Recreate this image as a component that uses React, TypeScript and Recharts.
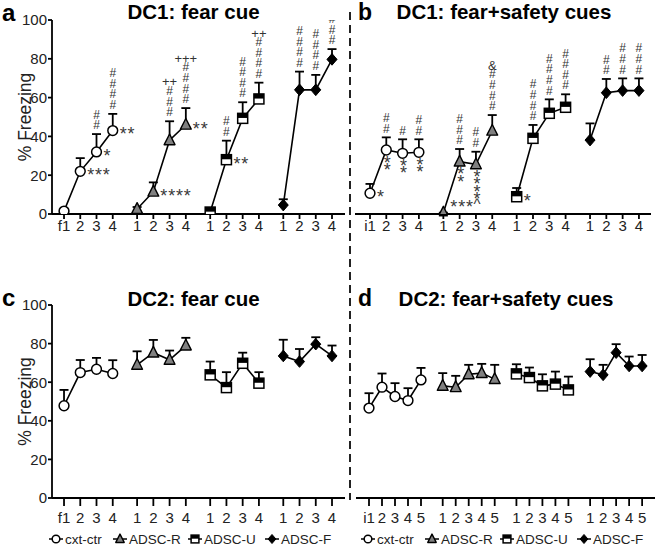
import { LineChart, Line, XAxis, YAxis, ErrorBar } from 'recharts'

const FONT = '"Liberation Sans", Arial, Helvetica, sans-serif'

const seriesNames = ['cxt-ctr', 'ADSC-R', 'ADSC-U', 'ADSC-F']
const yTicks = [0, 20, 40, 60, 80, 100]

// tick labels, one list per group
const dc1FearTicks = [['f1', '2', '3', '4'], ['1', '2', '3', '4'], ['1', '2', '3', '4'], ['1', '2', '3', '4']]
const dc1SafetyTicks = [['i1', '2', '3', '4'], ['1', '2', '3', '4'], ['1', '2', '3', '4'], ['1', '2', '3', '4']]
const dc2FearTicks = [['f1', '2', '3', '4'], ['1', '2', '3', '4'], ['1', '2', '3', '4'], ['1', '2', '3', '4']]
const dc2SafetyTicks = [['i1', '2', '3', '4', '5'], ['1', '2', '3', '4', '5'], ['1', '2', '3', '4', '5'], ['1', '2', '3', '4', '5']]

// a: DC1 fear cue
const dc1FearMean = [[1.5, 22, 32, 43], [2.6, 11.5, 38, 46], [1, 28, 49.3, 59.3], [4.6, 64, 64, 79.7]]
const dc1FearSem = [[0.5, 6.8, 9.2, 8.6], [1, 4.8, 9.8, 8.6], [0.5, 9.8, 8.3, 8.4], [3, 9.4, 7.7, 5.3]]
const dc1FearHash = [['', '', '##', '####'], ['', '', '###', '####'], ['', '##', '####', '####'], ['', '####', '####', '####']]
const dc1FearTop = [['', '', '', ''], ['', '', '++', '+++'], ['', '', '', '++'], ['', '', '', '']]
const dc1FearStars = [['', '***', '*', '**'], ['', '****', '', '**'], ['', '**', '', ''], ['', '', '', '']]

// b: DC1 fear+safety cues
const dc1SafetyMean = [[10.7, 33, 31.3, 31.8], [0.7, 27, 25.6, 42.9], [8.9, 39, 51.9, 55], [38.1, 62.5, 63.6, 63.6]]
const dc1SafetySem = [[4.8, 6.5, 7.2, 6.7], [0, 6.5, 6.5, 8.1], [4.5, 6.9, 7.2, 6.7], [8.6, 7.1, 6.3, 6.3]]
const dc1SafetyHash = [['', '##', '#', '##'], ['', '###', '##', '####'], ['', '####', '####', '####'], ['', '##', '###', '###']]
const dc1SafetyTop = [['', '', '', ''], ['', '', '', '&'], ['', '', '', ''], ['', '', '', '']]
const dc1SafetyStars = [['*', '', '', ''], ['***', '', '', ''], ['*', '', '', ''], ['', '', '', '']]
const dc1SafetyBelow = [['', '**', '**', '**'], ['', '**', '****', ''], ['', '', '', ''], ['', '', '', '']]
const dc1SafetyCaret = [['', '', '', ''], ['', '', '^', ''], ['', '', '', ''], ['', '', '', '']]

// c: DC2 fear cue
const dc2FearMean = [[47.8, 65, 66.7, 64.5], [69, 75.3, 71.6, 79], [63.8, 57.2, 69.8, 59.5], [73.6, 70.7, 79.7, 73.6]]
const dc2FearSem = [[8.2, 6.5, 5.9, 6.9], [7, 6.6, 4.8, 4], [6.9, 8, 5.5, 5.7], [8.4, 6.5, 3.6, 5.4]]

// d: DC2 fear+safety cues
const dc2SafetyMean = [[46.6, 57.4, 52.6, 50.5, 61.2], [58.1, 57.4, 64.1, 64.7, 61.6], [64.3, 62.4, 58.1, 59, 56], [65.5, 63.8, 75.3, 68.4, 68.4]]
const dc2SafetySem = [[7.7, 7.1, 6.9, 6.4, 6.2], [6.6, 5.9, 4.9, 4.8, 7.4], [5, 5.2, 6, 6.5, 6.9], [6.4, 5.2, 4.4, 4.9, 5.7]]

type Row = {
  x: number; tick: string; g: number; v: number; e: number
  hash: string; top: string; stars: string; below: string; caret: string
}

function buildRows(
  ticks: string[][], mean: number[][], sem: number[][], step: number,
  hash?: string[][], top?: string[][], stars?: string[][], below?: string[][], caret?: string[][],
): Row[] {
  const rows: Row[] = []
  mean.forEach((vals, g) => vals.forEach((v, i) => rows.push({
    x: g * step + i, tick: ticks[g][i], g, v, e: sem[g][i],
    hash: hash?.[g][i] ?? '', top: top?.[g][i] ?? '', stars: stars?.[g][i] ?? '',
    below: below?.[g][i] ?? '', caret: caret?.[g][i] ?? '',
  })))
  return rows
}

const rowsA = buildRows(dc1FearTicks, dc1FearMean, dc1FearSem, 4.5, dc1FearHash, dc1FearTop, dc1FearStars)
const rowsB = buildRows(dc1SafetyTicks, dc1SafetyMean, dc1SafetySem, 4.5, dc1SafetyHash, dc1SafetyTop,
  dc1SafetyStars, dc1SafetyBelow, dc1SafetyCaret)
const rowsC = buildRows(dc2FearTicks, dc2FearMean, dc2FearSem, 4.5)
const rowsD = buildRows(dc2SafetyTicks, dc2SafetyMean, dc2SafetySem, 5.67)

// stacked symbols: one text per stack, drawn top to bottom
const vertical = { writingMode: 'vertical-rl', textOrientation: 'upright' } as any

function Marker({ g, cx, cy, s = 1 }: { g: number; cx: number; cy: number; s?: number }) {
  if (g === 0) return <circle cx={cx} cy={cy} r={4.9 * s} fill="#fff" stroke="#000" strokeWidth={1.5} />
  if (g === 1) {
    return <path d={`M${cx},${cy - 6.3 * s} L${cx + 5.4 * s},${cy + 4.4 * s} L${cx - 5.4 * s},${cy + 4.4 * s} Z`}
      fill="#808080" stroke="#000" strokeWidth={1.4} strokeLinejoin="round" />
  }
  if (g === 2) {
    return (
      <g>
        <rect x={cx - 5 * s} y={cy - 5 * s} width={10 * s} height={10 * s} fill="#fff" stroke="#000" strokeWidth={1.5} />
        <rect x={cx - 5 * s} y={cy - 5 * s} width={10 * s} height={4.6 * s} fill="#000" />
      </g>
    )
  }
  return <path d={`M${cx},${cy - 5.8 * s} L${cx + 5 * s},${cy} L${cx},${cy + 5.8 * s} L${cx - 5 * s},${cy} Z`} fill="#000" stroke="#000" strokeWidth={1} />
}

const renderMarker = (p: any, g: number) => {
  const r: Row | undefined = p.payload
  const key = `m-${g}-${p.index}`
  if (p.cx == null || p.cy == null || !r || r.g !== g) return <g key={key} />
  // points sitting on the axis get their stars raised clear of the tick labels
  const lift = r.v < 3 ? 9.5 : 0
  return (
    <g key={key}>
      <Marker g={g} cx={p.cx} cy={p.cy} />
      {r.stars && (
        <text x={p.cx + 7} y={p.cy + 9.9 - lift} fontSize={18} letterSpacing={0.8} fill="#3a3a3a" fontFamily={FONT}>{r.stars}</text>
      )}
      {r.below && (
        <text x={p.cx + 1} y={p.cy + 2.7} fontSize={18} letterSpacing={-12.6} fill="#3a3a3a" fontFamily={FONT} style={vertical}>{r.below}</text>
      )}
      {r.caret && (
        <text x={p.cx + 1} y={p.cy + 44.5} textAnchor="middle" fontSize={15} fill="#3a3a3a" fontFamily={FONT}>{r.caret}</text>
      )}
    </g>
  )
}

const renderHash = (p: any) => {
  const r: Row | undefined = p.payload
  const key = `h-${p.index}`
  if (p.cx == null || p.cy == null || !r || (!r.hash && !r.top)) return <g key={key} />
  const n = r.hash.length
  return (
    <g key={key}>
      {n > 0 && (
        <text x={p.cx} y={p.cy - 5.2} textAnchor="end" fontSize={12} letterSpacing={-3.4} fill="#333" fontFamily={FONT} style={vertical}>{r.hash}</text>
      )}
      {r.top && (
        <text x={p.cx} y={p.cy - 4.8 - n * 10} textAnchor="middle" fontSize={13} fill="#333" fontFamily={FONT}>{r.top}</text>
      )}
    </g>
  )
}

const yLabel = (props: any) => {
  const vb = props.viewBox
  const cx = vb.x + 24.5
  const cy = vb.y + vb.height / 2
  return (
    <text x={cx} y={cy} transform={`rotate(-90 ${cx} ${cy})`} textAnchor="middle" dominantBaseline="central"
      fontSize={17.5} fill="#222" fontFamily={FONT}>% Freezing</text>
  )
}

interface PanelProps {
  rows: Row[]
  width: number
  height: number
  margin: { top: number; right: number; bottom: number; left: number }
  domain: [number, number]
  showY: boolean
  tickSize: number
  tickMargin: number
  xHeight: number
}

function Panel({ rows, width, height, margin, domain, showY, tickSize, tickMargin, xHeight }: PanelProps) {
  const tickLabel = (v: number) => rows.find(r => Math.abs(r.x - v) < 1e-6)?.tick ?? ''
  const axisStyle = { stroke: '#000', strokeWidth: 1.8 }
  return (
    <LineChart width={width} height={height} data={rows} margin={margin}>
      <XAxis type="number" dataKey="x" domain={domain} ticks={rows.map(r => r.x)} interval={0}
        tickFormatter={tickLabel} height={xHeight} tickSize={tickSize} tickMargin={tickMargin}
        axisLine={axisStyle} tickLine={axisStyle} allowDataOverflow
        tick={{ fill: '#222', fontSize: 15, fontFamily: FONT }} />
      <YAxis type="number" domain={[0, 100]} ticks={yTicks} hide={!showY} width={52} tickSize={4} tickMargin={1}
        axisLine={axisStyle} tickLine={axisStyle} allowDataOverflow
        tick={{ fill: '#222', fontSize: 15, fontFamily: FONT }} label={yLabel} />
      <Line dataKey="v" stroke="none" dot={false} activeDot={false} isAnimationActive={false} legendType="none">
        <ErrorBar dataKey={(r: Row) => [r.g === 1 ? 1.5 : 0, r.e]} width={4.5} stroke="#000" strokeWidth={1.8} direction="y" />
      </Line>
      <Line dataKey={(r: Row) => r.v + r.e} stroke="none" dot={renderHash} activeDot={false}
        isAnimationActive={false} legendType="none" />
      {seriesNames.map((n, g) => (
        <Line key={n} name={n} dataKey={(r: Row) => (r.g === g ? r.v : null)} stroke="#000" strokeWidth={1.6}
          dot={(p: any) => renderMarker(p, g)} activeDot={false} isAnimationActive={false} />
      ))}
    </LineChart>
  )
}

function LegendSet({ left }: { left: number[] }) {
  return (
    <g>
      {seriesNames.map((n, g) => (
        <g key={n}>
          <line x1={left[g]} x2={left[g] + 14} y1={539} y2={539} stroke="#000" strokeWidth={1.5} />
          <Marker g={g} cx={left[g] + 7} cy={539} s={0.78} />
          <text x={left[g] + 16} y={543.6} fontSize={13.5} fill="#222" fontFamily={FONT}>{n}</text>
        </g>
      ))}
    </g>
  )
}

export default function App() {
  return (
    <div style={{ position: 'absolute', left: 0, top: 0, width: 660, height: 551, background: '#fff', fontFamily: FONT }}>
      <div style={{ position: 'absolute', left: 0, top: 0 }}>
        <Panel rows={rowsA} width={350} height={250} margin={{ top: 20, right: 5, bottom: 0, left: 0 }}
          domain={[-0.74, 17.3]} showY tickSize={5} tickMargin={1} xHeight={36} />
      </div>
      <div style={{ position: 'absolute', left: 350, top: 0 }}>
        <Panel rows={rowsB} width={310} height={250} margin={{ top: 20, right: 9, bottom: 0, left: 5 }}
          domain={[-0.92, 17.24]} showY={false} tickSize={5} tickMargin={1} xHeight={36} />
      </div>
      <div style={{ position: 'absolute', left: 0, top: 280 }}>
        <Panel rows={rowsC} width={350} height={250} margin={{ top: 25, right: 5, bottom: 0, left: 0 }}
          domain={[-0.74, 17.3]} showY tickSize={8} tickMargin={6} xHeight={32} />
      </div>
      <div style={{ position: 'absolute', left: 350, top: 280 }}>
        <Panel rows={rowsD} width={310} height={250} margin={{ top: 25, right: 5, bottom: 0, left: 6 }}
          domain={[-1, 22]} showY={false} tickSize={8} tickMargin={6} xHeight={32} />
      </div>
      <svg width={660} height={551} style={{ position: 'absolute', left: 0, top: 0, pointerEvents: 'none' }}>
        <line x1={350} x2={350} y1={12} y2={500} stroke="#222" strokeWidth={2} strokeDasharray="8 5" />
        <g fontFamily={FONT} fontWeight="bold" fill="#000">
          <text x={2} y={21} fontSize={24}>a</text>
          <text x={193.5} y={18.5} fontSize={20.5} textAnchor="middle">DC1: fear cue</text>
          <text x={358} y={19.5} fontSize={23}>b</text>
          <text x={504} y={18.5} fontSize={20.5} textAnchor="middle">DC1: fear+safety cues</text>
          <text x={2} y={306} fontSize={24}>c</text>
          <text x={193.5} y={306} fontSize={20.5} textAnchor="middle">DC2: fear cue</text>
          <text x={358} y={306} fontSize={23}>d</text>
          <text x={506} y={306} fontSize={20.5} textAnchor="middle">DC2: fear+safety cues</text>
        </g>
        <LegendSet left={[49, 113, 188, 265]} />
        <LegendSet left={[361, 425, 500, 577]} />
      </svg>
    </div>
  )
}
